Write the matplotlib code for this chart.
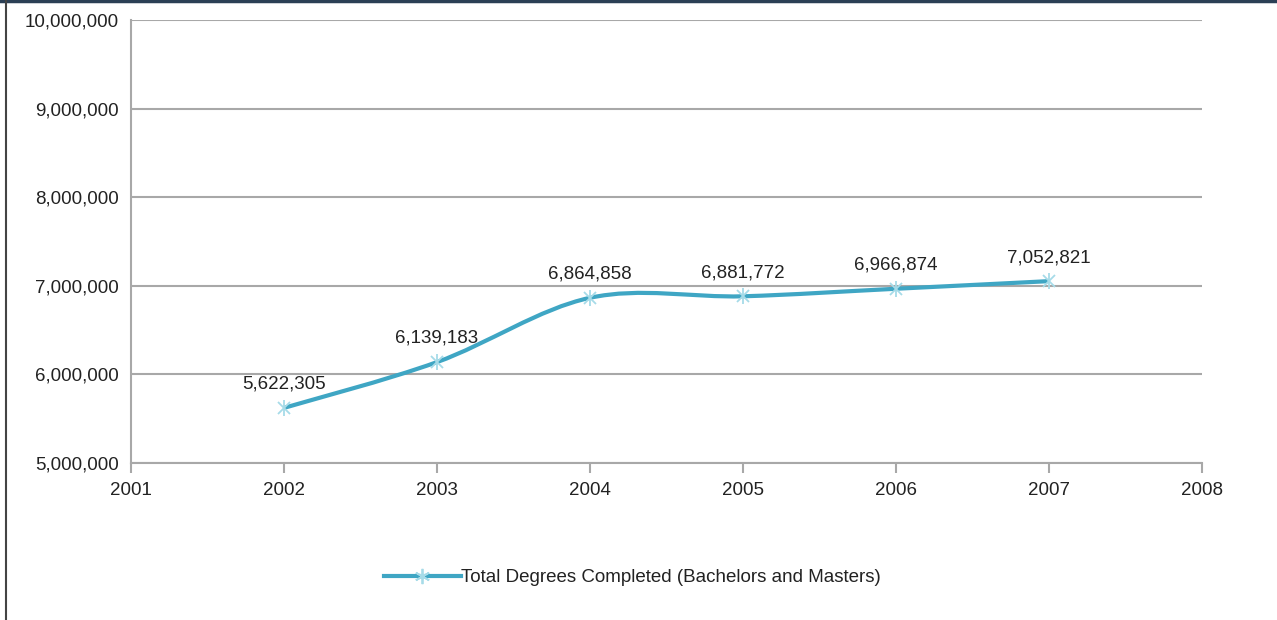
import matplotlib
matplotlib.use("Agg")
import matplotlib.pyplot as plt
from matplotlib.path import Path
from matplotlib.patches import PathPatch
from matplotlib.lines import Line2D
from matplotlib.ticker import FuncFormatter

years = [2002, 2003, 2004, 2005, 2006, 2007]
degrees = [5622305, 6139183, 6864858, 6881772, 6966874, 7052821]
label = "Total Degrees Completed (Bachelors and Masters)"

line_col = "#3fa6c4"
marker_col = "#a6dbe8"
grid_col = "#a8a8a8"

plt.rcParams['font.family'] = ['Liberation Sans', 'DejaVu Sans']


def smooth_path(xs, ys):
    # Catmull-Rom style bezier, like a spreadsheet "smoothed line"
    verts = [(xs[0], ys[0])]
    codes = [Path.MOVETO]
    n = len(xs)
    for i in range(n - 1):
        x0, y0 = (xs[i - 1], ys[i - 1]) if i > 0 else (xs[i], ys[i])
        x1, y1 = xs[i], ys[i]
        x2, y2 = xs[i + 1], ys[i + 1]
        x3, y3 = (xs[i + 2], ys[i + 2]) if i + 2 < n else (x2, y2)
        c1 = (x1 + (x2 - x0) / 6, y1 + (y2 - y0) / 6)
        c2 = (x2 - (x3 - x1) / 6, y2 - (y3 - y1) / 6)
        verts += [c1, c2, (x2, y2)]
        codes += [Path.CURVE4] * 3
    return Path(verts, codes)


fig = plt.figure(figsize=(12.77, 6.2), dpi=100)
ax = fig.add_axes([0.1026, 0.2532, 0.8387, 0.7145])

ax.set_xlim(2001, 2008)
ax.set_ylim(5000000, 10000000)
ax.set_xticks(range(2001, 2009))
ax.set_yticks(range(5000000, 10000001, 1000000))
ax.yaxis.set_major_formatter(FuncFormatter(lambda v, p: f"{int(v):,}"))

ax.grid(axis='y', color=grid_col, linewidth=1.5)
ax.set_axisbelow(True)
for s in ['top', 'right']:
    ax.spines[s].set_visible(False)
for s in ['left', 'bottom']:
    ax.spines[s].set_color(grid_col)
    ax.spines[s].set_linewidth(1.5)
ax.tick_params(axis='x', direction='out', length=7, width=1.5, color=grid_col,
               labelsize=13.5, pad=7, labelcolor='#222222')
ax.tick_params(axis='y', length=0, labelsize=13.5, pad=9, labelcolor='#222222')

ax.add_patch(PathPatch(smooth_path(years, degrees), facecolor='none',
                       edgecolor=line_col, linewidth=3, zorder=3))
# star marker: an x with a vertical bar
ax.plot(years, degrees, linestyle='none', marker='x', markersize=9,
        markeredgecolor=marker_col, markeredgewidth=1.3, zorder=4)
ax.plot(years, degrees, linestyle='none', marker='|', markersize=12,
        markeredgecolor=marker_col, markeredgewidth=1.3, zorder=4)

for x, y in zip(years, degrees):
    ax.annotate(f"{y:,}", (x, y), xytext=(0, 17), textcoords='offset points',
                ha='center', va='center', fontsize=13.5, color='#222222')

handle = Line2D([], [], color=line_col, linewidth=3, marker=(6, 2, 0),
                markersize=11, markeredgecolor=marker_col, markeredgewidth=1.3)
fig.legend([handle], [label], loc='center', bbox_to_anchor=(0.495, 0.068),
           frameon=False, fontsize=13.5, handlelength=4.1, handletextpad=0.0,
           labelcolor='#222222')

# frame edges of the original image
fig.add_artist(Line2D([0, 1], [0.999, 0.999], transform=fig.transFigure,
                      color='#2b3f55', linewidth=2.5))
fig.add_artist(Line2D([0.0045, 0.0045], [0, 1], transform=fig.transFigure,
                      color='#444444', linewidth=1.5))

fig.savefig("out.png", dpi=100)
